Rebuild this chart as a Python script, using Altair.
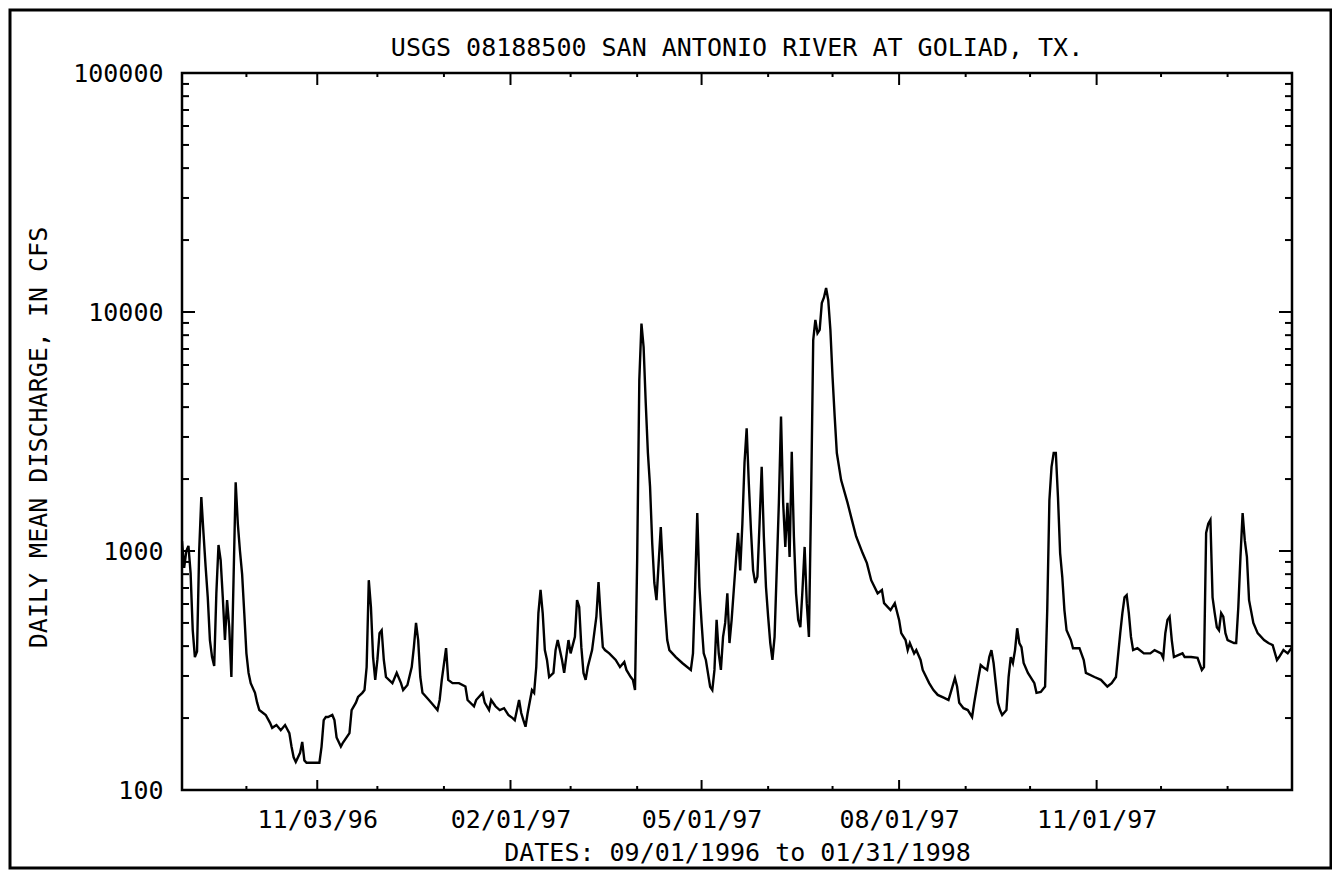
import altair as alt
import pandas as pd

# ---------------- data ----------------
start_date = "1996-09-01"

day_offsets = [
    0, 1, 2, 3, 4, 5, 6, 7, 8, 9, 10, 11, 12, 13, 14, 15, 16, 17, 18, 19, 20, 21, 22, 23, 24, 25, 26, 27, 28, 29,
    30, 31, 32, 34, 35, 36, 39, 41, 42, 44, 46, 48, 50, 51, 52, 53, 55, 56, 57, 58, 61, 64, 65, 66, 67, 68, 70, 71,
    72, 74, 75, 78, 79, 81, 82, 84, 85, 86, 87, 88, 89, 90, 91, 92, 93, 94, 95, 98, 100, 102, 103, 105, 107, 108,
    109, 110, 111, 112, 115, 117, 119, 120, 121, 123, 124, 126, 129, 132, 133, 136, 137, 140, 141, 143, 144, 146,
    148, 150, 152, 154, 155, 157, 158, 159, 160, 161, 163, 164, 165, 166, 167, 168, 169, 170, 171, 173, 174, 175,
    177, 178, 180, 181, 183, 184, 185, 186, 187, 188, 189, 191, 193, 194, 195, 196,
    197, 199, 202, 204, 206, 207, 209, 210, 211, 212, 213, 214, 215, 216, 217, 218, 219, 220, 221, 222, 223, 224,
    225, 226, 227, 230, 233, 237, 238, 239, 240, 241, 242, 243, 244, 246, 247, 248, 249, 250, 251, 252, 253, 254,
    255, 256, 257, 258, 259, 260, 261, 262, 263, 264, 265, 266, 267, 268, 269, 270, 271, 272, 273, 274, 275, 276,
    277, 278, 279, 280, 281, 282, 283, 284, 285, 286, 287, 288, 289, 290, 291, 292, 293, 294, 295, 296, 297, 298,
    299, 300, 301, 302, 303, 304, 305, 307, 310, 312, 314, 317, 319, 321, 324, 326, 327, 330, 332, 334,
    335, 337, 338, 339, 341, 342, 344, 345, 348, 350, 352, 355, 357, 358, 360, 361, 362, 364, 366, 368, 369, 371,
    372, 373, 375, 376, 377, 378, 379, 380, 381, 382, 384, 385, 386, 387, 388, 389, 390, 391, 392, 394, 397, 398,
    400, 402, 403, 404, 405, 406, 407, 408, 409, 410, 411, 412, 414, 415, 418, 420, 421, 425, 428, 431, 433, 435,
    437, 438, 439, 440, 441, 442, 443, 445, 448, 451, 453, 456, 457, 458, 459, 460, 461, 462, 464, 466, 467, 470,
    473, 475, 476, 477, 478, 479, 480, 481, 482, 483, 484, 485, 486, 487, 490, 491, 492, 493, 494, 495, 496, 497,
    499, 501, 504, 506, 508, 510, 511, 513, 515, 517,
]

discharge_cfs = [
    1100, 850, 1000, 1050, 810, 466, 360, 380, 1000, 1680, 1190, 860, 640, 424, 360, 330, 665, 1060, 915, 640, 424,
    623, 480, 297, 755, 1940, 1300, 1000, 800, 550,
    373, 309, 280, 255, 232, 216, 206, 191, 182, 187, 178, 187, 173, 152, 137, 131, 143, 159, 133, 130, 130, 130,
    152, 196, 202, 202, 206, 196,
    166, 152, 158, 173, 216, 232, 245, 255, 262, 327, 755, 583, 360, 289, 350, 453, 466, 350, 297, 280, 309, 280,
    262, 275, 327, 396,
    500, 424, 297, 255, 238, 227, 216, 238, 289, 392, 289, 280, 280, 271, 238, 224, 238, 255, 232, 216, 238, 224,
    216, 220, 206, 200, 196, 238, 210, 196, 184, 210, 262, 255, 327, 550, 687, 550, 385, 350, 297, 309, 385, 424,
    350, 309, 424, 373, 437, 623, 583, 396, 309, 289, 327, 385, 531, 742, 531, 396,
    385, 373, 350, 327, 343, 318, 297, 289, 262, 915, 5193, 8950, 7140, 4150, 2570, 1860, 1083, 735, 623, 890,
    1260, 830,
    566, 424, 385, 360, 340, 318, 373, 707, 1440, 707, 500, 373, 350, 270, 262, 318, 515, 373, 318, 437, 500, 665,
    412, 515, 687, 915, 1190, 830, 1300, 2340, 3260, 1920, 1224, 830, 735, 780, 1300, 2250, 1150, 707, 531, 412,
    350, 437,
    830, 1590, 3650, 1590, 1040, 1590, 945, 2600, 1150, 665, 515, 480, 687, 1040, 605, 437, 1630, 7630, 9260, 8150,
    8420, 10900,
    11500, 12600, 11200, 8420, 5350, 3650, 2570, 1980, 1590, 1350, 1150, 980, 890, 755, 665, 687, 605, 566, 605, 515,
    453, 424, 385, 412, 373, 385, 350, 318, 280, 262, 250, 243, 238, 255, 294, 271, 232, 220, 216, 202, 232, 297,
    333, 327, 318, 360, 385, 340, 280, 232, 216, 206, 216, 297, 360, 340, 385, 475, 412, 396, 340, 309, 280, 255,
    257, 271, 566, 1630, 2250, 2570, 2570, 1680, 980, 780, 566, 466, 424, 392, 392, 350, 309, 297, 289, 271, 280, 297,
    453, 550, 640, 654, 550, 437, 385, 392, 373, 373, 385, 373, 357, 453, 515, 531, 424, 360, 367, 373, 360, 360,
    357, 318, 327, 1190, 1300, 1350, 640, 550, 480, 466, 550, 531, 453, 424, 412, 412, 583, 945, 1440, 1110, 945, 623,
    500, 453, 424, 412, 404, 350, 360, 385, 373, 396,
]

major_tick_dates = ["1996-11-03", "1997-02-01", "1997-05-01", "1997-08-01", "1997-11-01"]
minor_tick_dates = ["1996-10-01", "1996-12-01", "1997-01-01", "1997-03-01", "1997-04-01", "1997-06-01",
                    "1997-07-01", "1997-09-01", "1997-10-01", "1997-12-01", "1998-01-01"]
y_major_ticks = [100, 1000, 10000, 100000]
y_minor_ticks = [200, 300, 400, 500, 600, 700, 800, 900,
                 2000, 3000, 4000, 5000, 6000, 7000, 8000, 9000,
                 20000, 30000, 40000, 50000, 60000, 70000, 80000, 90000]

title_text = "USGS 08188500 SAN ANTONIO RIVER AT GOLIAD, TX."
x_title = "DATES: 09/01/1996 to 01/31/1998"
y_title = "DAILY MEAN DISCHARGE, IN CFS"
domain_start = "1996-09-01"
domain_end = "1998-01-31"

# ---------------- tables ----------------
df = pd.DataFrame({
    "date": pd.to_datetime(start_date) + pd.to_timedelta(day_offsets, unit="D"),
    "cfs": discharge_cfs,
})
major_df = pd.DataFrame({"date": pd.to_datetime(major_tick_dates)})
minor_df = pd.DataFrame({"date": pd.to_datetime(minor_tick_dates)})
ymaj_df = pd.DataFrame({"cfs": y_major_ticks})
ymin_df = pd.DataFrame({"cfs": y_minor_ticks})


def dt(s):
    return alt.DateTime(year=int(s[:4]), month=int(s[5:7]), date=int(s[8:10]))


FONT = "DejaVu Sans Mono"
FS = 25
FW = "normal"
W, H = 1110, 717

x_scale = alt.Scale(domain=[dt(domain_start), dt(domain_end)])
y_scale = alt.Scale(type="log", domain=[100, 100000])

x_axis = alt.Axis(
    values=[dt(s) for s in major_tick_dates], format="%m/%d/%y",
    ticks=False, domain=False, grid=False, labelPadding=17, labelFlush=False,
    labelFont=FONT, labelFontSize=FS, labelFontWeight=FW, labelColor="black",
    title=x_title, titleFont=FONT, titleFontSize=FS, titleFontWeight=FW, titleColor="black",
    titleX=W / 2, titleY=62, titleAlign="center", titleBaseline="middle", titleAnchor="middle",
)
y_axis = alt.Axis(
    values=y_major_ticks, format="d",
    ticks=False, domain=False, grid=False, labelPadding=19,
    labelFont=FONT, labelFontSize=FS, labelFontWeight=FW, labelColor="black",
    title=y_title, titleFont=FONT, titleFontSize=FS, titleFontWeight=FW, titleColor="black",
    titleX=-144, titleY=364, titleAngle=270, titleAlign="center", titleBaseline="middle",
)

X = alt.X("date:T", scale=x_scale, axis=x_axis)
Y = alt.Y("cfs:Q", scale=y_scale, axis=y_axis)

line = alt.Chart(df).mark_line(color="black", strokeWidth=2.4, clip=True).encode(x=X, y=Y)

tick_style = dict(color="black", strokeWidth=2)

y_left_major = alt.Chart(ymaj_df).mark_rule(**tick_style).encode(y=Y, x=alt.value(0), x2=alt.value(13))
y_left_minor = alt.Chart(ymin_df).mark_rule(**tick_style).encode(y=Y, x=alt.value(0), x2=alt.value(7))
y_right_major = alt.Chart(ymaj_df).mark_rule(**tick_style).encode(y=Y, x=alt.value(W), x2=alt.value(W - 13))
y_right_minor = alt.Chart(ymin_df).mark_rule(**tick_style).encode(y=Y, x=alt.value(W), x2=alt.value(W - 7))

x_bot_major = alt.Chart(major_df).mark_rule(**tick_style).encode(x=X, y=alt.value(H), y2=alt.value(H - 10))
x_bot_minor = alt.Chart(minor_df).mark_rule(**tick_style).encode(x=X, y=alt.value(H), y2=alt.value(H - 4))
x_top_major = alt.Chart(major_df).mark_rule(**tick_style).encode(x=X, y=alt.value(0), y2=alt.value(12))
x_top_minor = alt.Chart(minor_df).mark_rule(**tick_style).encode(x=X, y=alt.value(0), y2=alt.value(4))

title = alt.Chart(pd.DataFrame({"t": [title_text]})).mark_text(
    font=FONT, fontSize=FS, fontWeight=FW, color="black", align="center", baseline="middle"
).encode(x=alt.value(W / 2), y=alt.value(-25), text="t:N")

frame = alt.Chart(pd.DataFrame({"a": [0]})).mark_rect(
    fill="white", fillOpacity=0, stroke="black", strokeWidth=3
).encode(x=alt.value(-172), x2=alt.value(1149), y=alt.value(-63), y2=alt.value(795))

chart = alt.layer(
    line, frame,
    y_left_major, y_left_minor, y_right_major, y_right_minor,
    x_bot_major, x_bot_minor, x_top_major, x_top_minor,
    title,
).properties(
    width=W, height=H,
    autosize=alt.AutoSizeParams(type="none"),
    padding={"left": 174, "top": 65, "right": 40, "bottom": 80},
    background="white",
).configure_view(stroke="black", strokeWidth=2.5)

chart.save("out.html", embed_options={"renderer": "svg", "actions": False})
